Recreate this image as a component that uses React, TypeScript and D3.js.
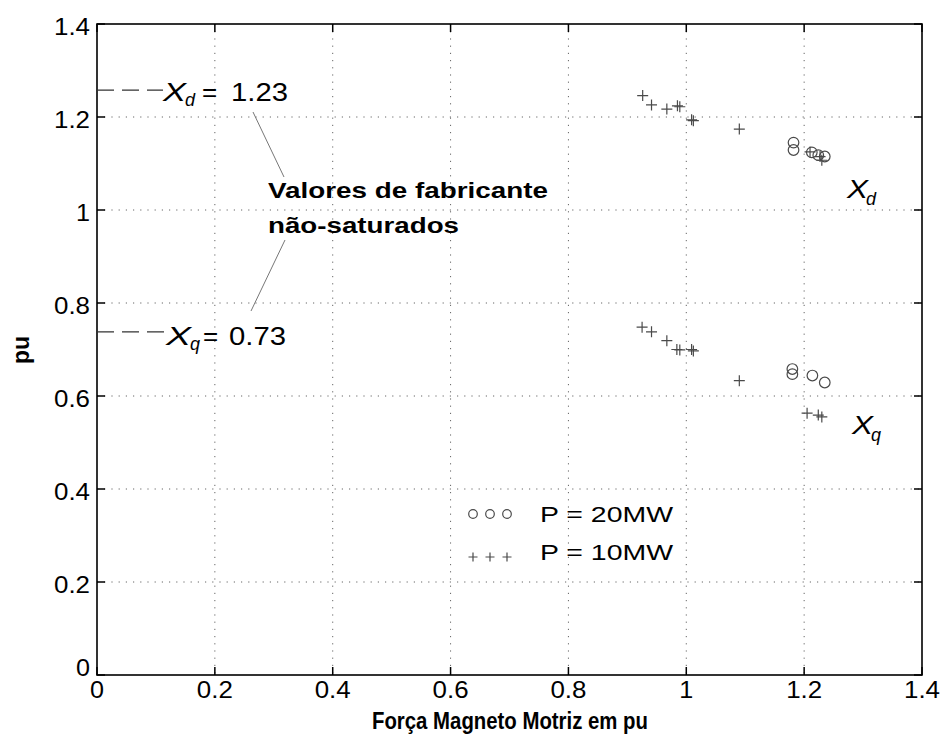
import React from "react";
import * as d3 from "d3";

const xTicks = [0, 0.2, 0.4, 0.6, 0.8, 1, 1.2, 1.4];
const yTicks = [0, 0.2, 0.4, 0.6, 0.8, 1, 1.2, 1.4];
const tickLabels = ["0", "0.2", "0.4", "0.6", "0.8", "1", "1.2", "1.4"];

// P = 10MW (plus markers)
const xd10x = [0.926, 0.941, 0.967, 0.985, 0.989, 1.009, 1.012, 1.09, 1.21, 1.227, 1.23];
const xd10y = [1.246, 1.226, 1.217, 1.224, 1.222, 1.194, 1.192, 1.174, 1.125, 1.115, 1.107];
const xq10x = [0.925, 0.941, 0.967, 0.984, 0.989, 1.009, 1.012, 1.09, 1.205, 1.224, 1.23];
const xq10y = [0.748, 0.738, 0.719, 0.7, 0.699, 0.7, 0.697, 0.633, 0.563, 0.559, 0.555];
// P = 20MW (circle markers)
const xd20x = [1.182, 1.182, 1.213, 1.224, 1.235];
const xd20y = [1.145, 1.129, 1.124, 1.118, 1.115];
const xq20x = [1.18, 1.18, 1.214, 1.235];
const xq20y = [0.658, 0.647, 0.644, 0.629];

const xdRef = 1.258;
const xqRef = 0.738;

const W = 946, H = 744;
const L = 97, R = 922, T = 24, B = 675;
const FONT = "'Liberation Sans', Arial, Helvetica, sans-serif";
const MC = "#4a4a4a";

export default function App() {
  const x = d3.scaleLinear().domain([0, 1.4]).range([L, R]);
  const y = d3.scaleLinear().domain([0, 1.4]).range([B, T]);

  const plus = (px: number, py: number, k: string, s = 5.5) => (
    <path key={k} d={`M${px - s},${py}H${px + s}M${px},${py - s}V${py + s}`} stroke={MC} strokeWidth={1.2} fill="none" />
  );
  const circ = (px: number, py: number, k: string, r = 5.3) => (
    <circle key={k} cx={px} cy={py} r={r} stroke={MC} strokeWidth={1.2} fill="none" />
  );

  const legendXs = [473, 490, 507];
  const tl = (s: string) => (s.length === 1 ? 14 : 36);
  const LA = "spacingAndGlyphs";

  return (
    <svg width={W} height={H} style={{ position: "absolute", left: 0, top: 0, background: "#fff" }} fontFamily={FONT}>
      <rect x={0} y={0} width={W} height={H} fill="#fff" />
      {/* grid */}
      {xTicks.slice(1, -1).map((t, i) => (
        <line key={"gx" + i} x1={x(t)} x2={x(t)} y1={T} y2={B} stroke="#666" strokeWidth={1} strokeDasharray="1.2,6" />
      ))}
      {yTicks.slice(1, -1).map((t, i) => (
        <line key={"gy" + i} x1={L} x2={R} y1={y(t)} y2={y(t)} stroke="#666" strokeWidth={1} strokeDasharray="1.2,6" />
      ))}
      {/* ticks */}
      {xTicks.map((t, i) => (
        <g key={"tx" + i}>
          <line x1={x(t)} x2={x(t)} y1={B} y2={B - 8} stroke="#000" strokeWidth={1.5} />
          <line x1={x(t)} x2={x(t)} y1={T} y2={T + 8} stroke="#000" strokeWidth={1.5} />
          <text x={x(t)} y={B + 23} fontSize={23} textAnchor="middle" fill="#000"
            textLength={tl(tickLabels[i])} lengthAdjust={LA}>{tickLabels[i]}</text>
        </g>
      ))}
      {yTicks.map((t, i) => (
        <g key={"ty" + i}>
          <line x1={L} x2={L + 8} y1={y(t)} y2={y(t)} stroke="#000" strokeWidth={1.5} />
          <line x1={R} x2={R - 8} y1={y(t)} y2={y(t)} stroke="#000" strokeWidth={1.5} />
          <text x={90} y={t === 0 ? y(t) + 1 : y(t) + 11} fontSize={23} textAnchor="end" fill="#000"
            textLength={tl(tickLabels[i])} lengthAdjust={LA}>{tickLabels[i]}</text>
        </g>
      ))}
      <rect x={L} y={T} width={R - L} height={B - T} fill="none" stroke="#000" strokeWidth={1.6} />

      {/* reference annotations */}
      <line x1={L} x2={163} y1={y(xdRef)} y2={y(xdRef)} stroke="#333" strokeWidth={1.3} strokeDasharray="17,8" />
      <text x={163} y={y(xdRef) + 10.5} fontSize={26} fontStyle="italic" fill="#000" textLength={23} lengthAdjust={LA}>X</text>
      <text x={185} y={y(xdRef) + 16} fontSize={18} fontStyle="italic" fill="#000">d</text>
      <text x={202} y={y(xdRef) + 10.5} fontSize={26} fill="#000">=</text>
      <text x={231} y={y(xdRef) + 10.5} fontSize={26} fill="#000" textLength={57} lengthAdjust={LA}>1.23</text>

      <line x1={L} x2={165} y1={y(xqRef)} y2={y(xqRef)} stroke="#333" strokeWidth={1.3} strokeDasharray="17,8" />
      <text x={166} y={y(xqRef) + 13} fontSize={26} fontStyle="italic" fill="#000" textLength={25} lengthAdjust={LA}>X</text>
      <text x={190} y={y(xqRef) + 18} fontSize={18} fontStyle="italic" fill="#000">q</text>
      <text x={203} y={y(xqRef) + 13} fontSize={26} fill="#000">=</text>
      <text x={229} y={y(xqRef) + 13} fontSize={26} fill="#000" textLength={57} lengthAdjust={LA}>0.73</text>

      <line x1={253} y1={112} x2={284} y2={177} stroke="#777" strokeWidth={1} />
      <line x1={285} y1={240} x2={251} y2={311} stroke="#777" strokeWidth={1} />
      <text x={268} y={198} fontSize={22} fontWeight="bold" fill="#000" textLength={280} lengthAdjust={LA}>Valores de fabricante</text>
      <text x={268} y={233} fontSize={22} fontWeight="bold" fill="#000" textLength={191} lengthAdjust={LA}>não-saturados</text>

      {/* data */}
      {xd10x.map((v, i) => plus(x(v), y(xd10y[i]), "a" + i))}
      {xq10x.map((v, i) => plus(x(v), y(xq10y[i]), "b" + i))}
      {xd20x.map((v, i) => circ(x(v), y(xd20y[i]), "c" + i))}
      {xq20x.map((v, i) => circ(x(v), y(xq20y[i]), "d" + i))}

      {/* curve labels */}
      <text x={847} y={198} fontSize={26} fontStyle="italic" fill="#000" textLength={21} lengthAdjust={LA}>X</text>
      <text x={866} y={205} fontSize={18} fontStyle="italic" fill="#000">d</text>
      <text x={852} y={434} fontSize={26} fontStyle="italic" fill="#000" textLength={21} lengthAdjust={LA}>X</text>
      <text x={871} y={441} fontSize={18} fontStyle="italic" fill="#000">q</text>

      {/* legend */}
      {legendXs.map((lx, i) => circ(lx, 514, "lc" + i, 4.3))}
      {legendXs.map((lx, i) => plus(lx, 557, "lp" + i, 4.5))}
      <text x={540} y={522} fontSize={22} fill="#000" textLength={133} lengthAdjust={LA}>P = 20MW</text>
      <text x={540} y={560} fontSize={22} fill="#000" textLength={133} lengthAdjust={LA}>P = 10MW</text>

      {/* axis labels */}
      <text x={510} y={729} fontSize={23} fontWeight="bold" textAnchor="middle" fill="#000" textLength={276} lengthAdjust={LA}>Força Magneto Motriz em pu</text>
      <text transform={`translate(29,350) rotate(-90)`} fontSize={23} fontWeight="bold" textAnchor="middle" fill="#000">pu</text>
    </svg>
  );
}
